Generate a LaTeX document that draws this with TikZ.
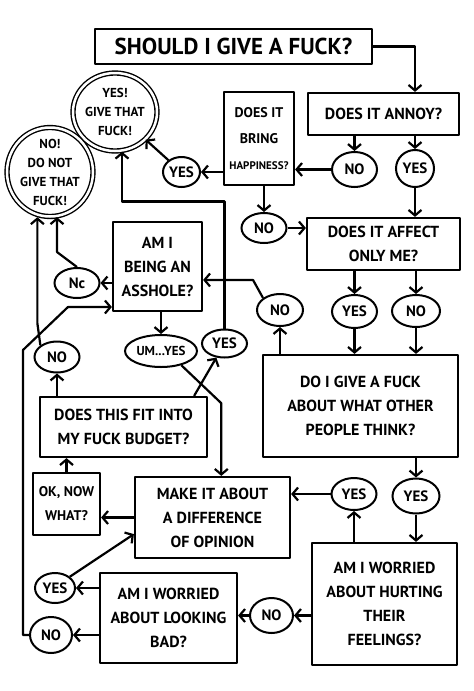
\documentclass[tikz,border=0pt]{standalone}
\usepackage{fontspec}
\setmainfont{PT Sans}
\usepackage{tikz}
\usetikzlibrary{shapes.geometric, positioning, arrows.meta, calc}
\tikzset{
  question/.style={rectangle, draw=black, line width=2.2pt, line join=round, align=center, inner sep=2pt, font=\bfseries\fontsize{16}{24}\selectfont},
  answer/.style={ellipse, draw=black, line width=2pt, inner sep=-2pt, font=\bfseries\fontsize{15}{16}\selectfont},
  verdict/.style={ellipse, draw=black, double, double distance=2.5pt, line width=1.4pt, align=center, inner sep=-2pt, font=\bfseries\fontsize{13}{19}\selectfont},
  arrow/.style={line width=2.2pt, line join=round, -{Straight Barb[length=5.5pt,width=13pt]}}
}

\begin{document}
\begin{tikzpicture}[x=1pt, y=-1pt]
    \useasboundingbox (0,0) rectangle (474,691);

    % 1. Preguntas
    \node[question, font=\bfseries\fontsize{23}{28}\selectfont, minimum width=277, minimum height=35] (title) at (233.5,46.5) {SHOULD I GIVE A FUCK?};
    \node[question, minimum width=151, minimum height=42] (annoy) at (383.5,114) {DOES IT ANNOY?};
    \node[question, font=\bfseries\fontsize{14}{26}\selectfont, minimum width=70, minimum height=93] (happy) at (259,138.5) {DOES IT\\BRING\\{\fontsize{11}{26}\selectfont HAPPINESS?}};
    \node[question, minimum width=153, minimum height=52] (affect) at (383.5,244) {DOES IT AFFECT\\ONLY ME?};
    \node[question, minimum width=195, minimum height=102] (others) at (360.5,406) {DO I GIVE A FUCK\\ABOUT WHAT OTHER\\PEOPLE THINK?};
    \node[question, minimum width=89, minimum height=89] (asshole) at (157.5,266.5) {AM I\\BEING AN\\ASSHOLE?};
    \node[question, minimum width=167, minimum height=60] (budget) at (123.5,427) {DOES THIS FIT INTO\\MY FUCK BUDGET?};
    \node[question, minimum width=155, minimum height=81] (make) at (212.5,517.5) {MAKE IT ABOUT\\A DIFFERENCE\\OF OPINION};
    \node[question, font=\bfseries\fontsize{14}{24}\selectfont, minimum width=67, minimum height=62] (okwhat) at (66.5,504) {OK, NOW\\WHAT?};
    \node[question, minimum width=145, minimum height=122] (hurt) at (384.5,604) {AM I WORRIED\\ABOUT HURTING\\THEIR\\FEELINGS?};
    \node[question, minimum width=137, minimum height=90] (bad) at (168.5,618) {AM I WORRIED\\ABOUT LOOKING\\BAD?};

    % 2. Resultados
    \node[verdict, minimum width=84, minimum height=78] (givefuck) at (115,112) {YES!\\GIVE THAT\\FUCK!};
    \node[verdict, minimum width=86, minimum height=89] (nogive) at (50,172) {NO!\\DO NOT\\GIVE THAT\\FUCK!};

    % 3. Respuestas
    \foreach \n/\x/\y/\w/\h/\t in {
        noA/354.5/169.5/45/35/NO, yesA/415/168.5/38/37/YES,
        yesH/181.5/172/37/30/YES, noH/264/228/45/30/NO,
        yesAf/354.5/311.5/45/33/YES, noAf/416/311/48/32/NO,
        noO/280/310/46/32/NO, noAs/77/283/45/30/Nc,
        noB/57/357/45/31/NO, yesB/224.5/343.5/45/28/YES,
        yesO/354/494/45/32/YES, yesO2/416/496/47/35/YES,
        noHu/271.5/615.5/43/35/NO, yesBad/55/588/40/30/YES,
        noBad/51/635/42/36/NO
    } {
        \node[answer, minimum width=\w, minimum height=\h] (\n) at (\x,\y) {\t};
    }
    \node[answer, font=\bfseries\fontsize{13}{16}\selectfont, minimum width=72, minimum height=32] (umyes) at (161,351) {UM...YES};

    % 4. Flechas
    \draw[arrow] (title.east) -| (yesA |- annoy.north);
    \draw[arrow] (noA |- annoy.south) -- (noA);
    \draw[arrow] (yesA |- annoy.south) -- (yesA);
    \draw[arrow] (noA) -- (noA -| happy.east);
    \draw[arrow] (yesA) -- (yesA |- affect.north);
    \draw[arrow] (happy.west |- yesH) -- (yesH);
    \draw[arrow] (yesH) -- (givefuck);
    \draw[arrow] (noH |- happy.south) -- (noH);
    \draw[arrow] (noH) -- (noH -| affect.west);
    \draw[arrow] (yesAf |- affect.south) -- (yesAf);
    \draw[arrow] (noAf |- affect.south) -- (noAf);
    \draw[arrow] (yesAf) -- (yesAf |- others.north);
    \draw[arrow] (noAf) -- (noAf |- others.north);
    \draw[arrow] (noO |- others.north) -- (noO);
    \draw[arrow] (noO.north west) -- ++(-10,-18) coordinate (k1) -- (k1 -| asshole.east);
    \draw[arrow] (asshole.west |- noAs) -- (noAs);
    \draw[arrow] (noAs.north) -- ++(-20,-15) coordinate (k2) -- (k2 |- nogive.south);
    \draw[arrow] (umyes |- asshole.south) -- (umyes);
    \draw[arrow] (umyes.-35) -- ++(40,38) coordinate (k3) -- (k3 |- make.north);
    \draw[arrow] (noB |- budget.north) -- (noB);
    \draw[arrow] (noB.north west) -- ++(-3,-22) coordinate (k4) -- (k4 |- nogive.south);
    \draw[arrow] ($(budget.north east)+(-14,0)$) -- (yesB);
    \draw[arrow] (yesB.north) -- ++(0,-127) -| ($(givefuck.south)+(7,0)$);
    \draw[arrow] (yesO2 |- others.south) -- (yesO2);
    \draw[arrow] (yesO2) -- (yesO2 |- hurt.north);
    \draw[arrow] (yesO |- hurt.north) -- (yesO);
    \draw[arrow] (yesO) -- (yesO -| make.east);
    \draw[arrow] (make.west) -- (make.west -| okwhat.east);
    \draw[arrow] (okwhat.north) -- (okwhat.north |- budget.south);
    \draw[arrow] (hurt.west |- noHu) -- (noHu);
    \draw[arrow] (noHu) -- (noHu -| bad.east);
    \draw[arrow] (bad.west |- yesBad) -- (yesBad);
    \draw[arrow] (bad.west |- noBad) -- (noBad);
    \draw[arrow] (yesBad.north east) -- ($(make.south west)+(0,-25)$);
    \draw[arrow] (noBad.west) -| (23,350) -- (68,307) coordinate (k6) -- (k6 -| asshole.west);

\end{tikzpicture}
\end{document}
